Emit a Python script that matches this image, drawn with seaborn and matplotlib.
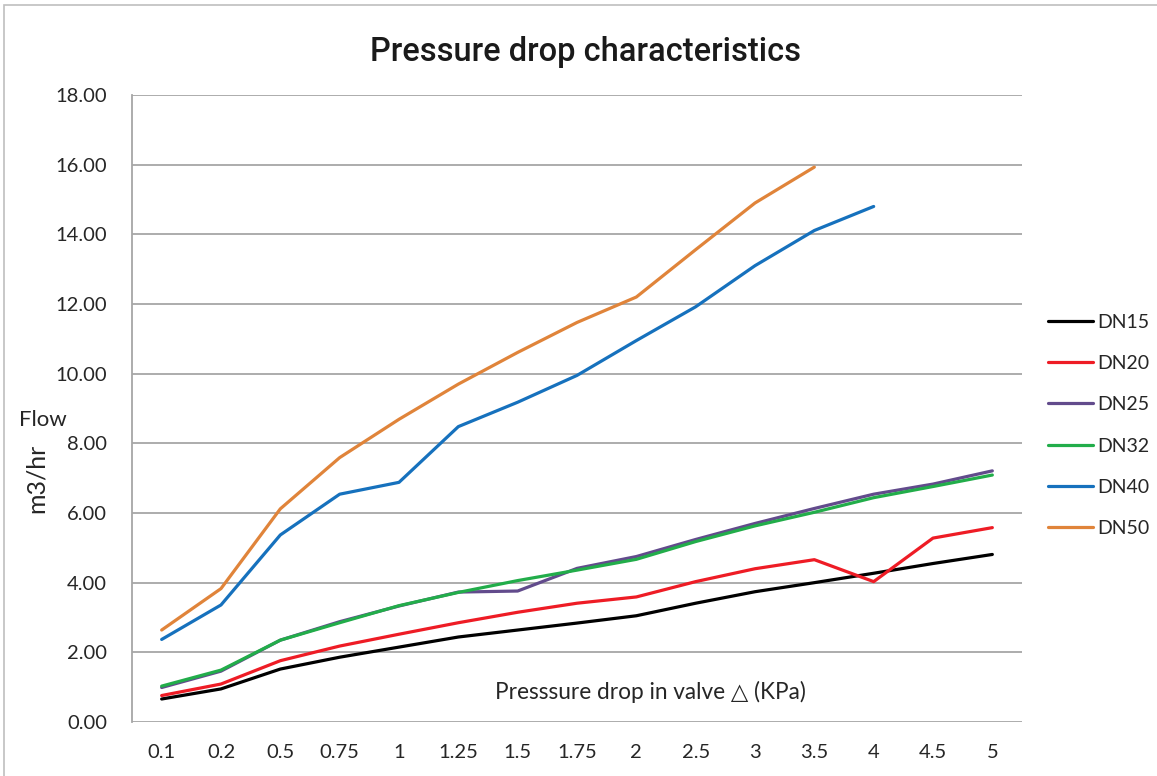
import matplotlib
matplotlib.use("Agg")
import matplotlib.pyplot as plt
import seaborn as sns
import pandas as pd
from matplotlib.patches import Rectangle

# ── data ──
PRESSURE = ["0.1", "0.2", "0.5", "0.75", "1", "1.25", "1.5", "1.75",
            "2", "2.5", "3", "3.5", "4", "4.5", "5"]
DN15 = [0.66, 0.95, 1.52, 1.86, 2.15, 2.44, 2.64, 2.84, 3.05, 3.41, 3.74, 4.00, 4.27, 4.55, 4.81]
DN20 = [0.76, 1.09, 1.76, 2.18, 2.52, 2.85, 3.15, 3.41, 3.59, 4.03, 4.40, 4.66, 4.03, 5.28, 5.58]
DN25 = [0.99, 1.46, 2.35, 2.88, 3.33, 3.73, 3.76, 4.41, 4.75, 5.24, 5.70, 6.13, 6.54, 6.83, 7.21]
DN32 = [1.03, 1.49, 2.35, 2.85, 3.34, 3.72, 4.06, 4.36, 4.67, 5.18, 5.63, 6.02, 6.44, 6.76, 7.09]
DN40 = [2.37, 3.36, 5.37, 6.54, 6.88, 8.48, 9.18, 9.95, 10.95, 11.92, 13.10, 14.11, 14.80]
DN50 = [2.64, 3.83, 6.12, 7.59, 8.69, 9.70, 10.61, 11.47, 12.20, 13.56, 14.90, 15.93]

SERIES = {"DN15": DN15, "DN20": DN20, "DN25": DN25, "DN32": DN32, "DN40": DN40, "DN50": DN50}
COULEURS = {"DN15": "#000000", "DN20": "#ee1c25", "DN25": "#624b8c",
            "DN32": "#22ad4a", "DN40": "#1671bd", "DN50": "#e0843a"}
Y_TICKS = [0, 2, 4, 6, 8, 10, 12, 14, 16, 18]

rows = []
for nom, vals in SERIES.items():
    for p, v in zip(PRESSURE, vals):
        rows.append({"pression": p, "debit": v, "serie": nom})
df = pd.DataFrame(rows)

# ── figure ──
sns.set_style("white")
plt.rcParams["font.family"] = ["Lato", "DejaVu Sans"]
GRIS = "#a6a6a6"
TEXTE = "#262626"

fig = plt.figure(figsize=(11.57, 7.76), dpi=100)
ax = fig.add_axes([132 / 1157, 1 - 722 / 776, 890 / 1157, 627 / 776])

# chart frame (cropped on the right/bottom)
fig.patches.append(Rectangle((4 / 1157, -0.1), 1.2, 1.1 - 5 / 776,
                             transform=fig.transFigure, fill=False,
                             edgecolor="#bfbfbf", linewidth=1.2))

sns.lineplot(data=df, x="pression", y="debit", hue="serie", palette=COULEURS,
             sort=False, linewidth=2.3, ax=ax, legend=True)

ax.set_xlim(-0.5, len(PRESSURE) - 0.5)
ax.set_ylim(0, 18)
ax.set_yticks(Y_TICKS)
ax.set_yticklabels([f"{v:.2f}" for v in Y_TICKS])
ax.tick_params(axis="x", length=0, pad=16, labelsize=14.5, labelcolor=TEXTE)
ax.tick_params(axis="y", length=0, pad=18, labelsize=14.5, labelcolor=TEXTE)
ax.grid(axis="y", color=GRIS, linewidth=1.3)
ax.set_axisbelow(True)
for s in ["top", "right", "bottom"]:
    ax.spines[s].set_visible(False)
ax.spines["left"].set_color(GRIS)
ax.spines["left"].set_linewidth(1.3)
ax.set_xlabel("")
ax.set_ylabel("")

ax.text(0.582, 0.048, "Presssure drop in valve \u25b3 (KPa)", transform=ax.transAxes,
        ha="center", va="center", fontsize=16.3, color=TEXTE)

fig.text(19 / 1157, 1 - 420 / 776, "Flow", ha="left", va="center",
         fontsize=16, color=TEXTE)
fig.text(36 / 1157, 1 - 478 / 776, "m3/hr", ha="center", va="center",
         rotation=90, fontsize=18, color=TEXTE)

fig.text(586 / 1157, 1 - 52 / 776, "Pressure drop characteristics", ha="center",
         va="center", fontsize=23.5, fontweight="medium", color="#1a1a1a",
         family=["Roboto", "DejaVu Sans"])

handles, labels = ax.get_legend_handles_labels()
for h in handles:
    h.set_linewidth(2.3)
ax.legend(handles, labels, loc="center left", bbox_to_anchor=(1.029, 0.473),
          frameon=False, fontsize=14, handlelength=2.3, handletextpad=0.25,
          labelspacing=1.25, borderaxespad=0, borderpad=0, labelcolor=TEXTE)

plt.savefig("out.png", dpi=100)
plt.close()
